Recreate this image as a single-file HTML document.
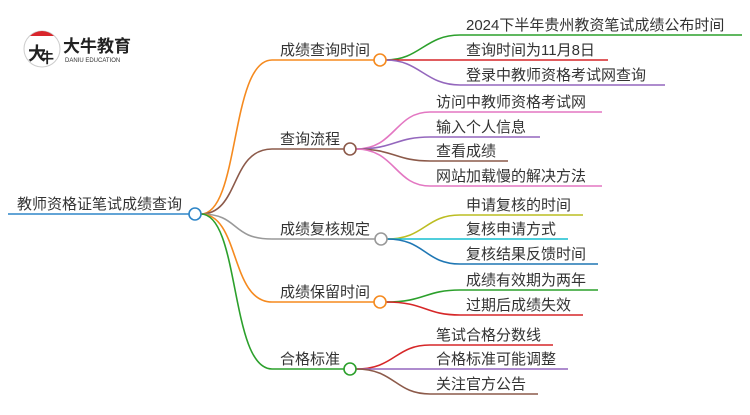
<!DOCTYPE html>
<html><head><meta charset="utf-8"><style>
body{margin:0;background:#fff}
svg text{font-family:"Liberation Sans","Noto Sans CJK SC",sans-serif;fill:#333}
</style></head><body>
<svg width="750" height="410" viewBox="0 0 750 410" xmlns="http://www.w3.org/2000/svg">
<g>
<circle cx="42" cy="49" r="18" fill="#fff" stroke="#ccc" stroke-width="1"/>
<path d="M30,36 A17,17 0 0 1 54,36 Z" fill="#d9262c"/>
<text x="28" y="60" font-size="18" font-weight="bold" style="fill:#222">大</text>
<text x="40" y="63" font-size="14" font-weight="bold" style="fill:#222">牛</text>
<text x="63" y="52" font-size="17" font-weight="bold" style="fill:#222">大牛教育</text>
<text x="65" y="62" font-size="6" style="fill:#333">DANIU EDUCATION</text>
</g>
<g fill="none" stroke-width="1.6">
<path d="M8,214 H189" stroke="#2f86c8"/>
<path d="M201,214 C240,214 230,60 272,60 H374" stroke="#f58a1f"/>
<path d="M201,214 C240,214 230,149 272,149 H344" stroke="#8c5a4a"/>
<path d="M201,214 C240,214 230,239 272,239 H375" stroke="#999"/>
<path d="M201,214 C240,214 230,302 272,302 H374" stroke="#f58a1f"/>
<path d="M201,214 C240,214 230,369 272,369 H344" stroke="#2ca02c"/>
<path d="M386,60 C420,60 425,35 460,35 H742" stroke="#2ca02c"/>
<path d="M386,60 H608" stroke="#d62728"/>
<path d="M386,60 C420,60 425,85 460,85 H665" stroke="#9467bd"/>
<path d="M356,149 C395,149 395,112 430,112 H602" stroke="#e377c2"/>
<path d="M356,149 C395,149 395,137 430,137 H540" stroke="#9467bd"/>
<path d="M356,149 C395,149 395,161 430,161 H508" stroke="#8c5a4a"/>
<path d="M356,149 C395,149 395,186 430,186 H602" stroke="#e377c2"/>
<path d="M387,239 C425,239 425,215 460,215 H583" stroke="#bcbd22"/>
<path d="M387,239 H568" stroke="#17becf"/>
<path d="M387,239 C425,239 425,264 460,264 H598" stroke="#1f77b4"/>
<path d="M386,302 C425,302 425,290 460,290 H598" stroke="#2ca02c"/>
<path d="M386,302 C425,302 425,315 460,315 H583" stroke="#d62728"/>
<path d="M356,369 C395,369 395,345 430,345 H553" stroke="#d62728"/>
<path d="M356,369 H568" stroke="#9467bd"/>
<path d="M356,369 C395,369 395,394 430,394 H538" stroke="#8c5a4a"/>
</g>
<g fill="#fff" stroke-width="1.6">
<circle cx="195" cy="214" r="6" stroke="#2f86c8"/>
<circle cx="380" cy="60" r="6" stroke="#f58a1f"/>
<circle cx="350" cy="149" r="6" stroke="#8c5a4a"/>
<circle cx="381" cy="239" r="6" stroke="#999"/>
<circle cx="380" cy="302" r="6" stroke="#f58a1f"/>
<circle cx="350" cy="369" r="6" stroke="#2ca02c"/>
</g>
<g font-size="15">
<text x="17" y="209">教师资格证笔试成绩查询</text>
<text x="280" y="55">成绩查询时间</text>
<text x="280" y="144">查询流程</text>
<text x="280" y="234">成绩复核规定</text>
<text x="280" y="297">成绩保留时间</text>
<text x="280" y="364">合格标准</text>
<text x="466" y="30">2024下半年贵州教资笔试成绩公布时间</text>
<text x="466" y="55">查询时间为11月8日</text>
<text x="466" y="80">登录中教师资格考试网查询</text>
<text x="436" y="107">访问中教师资格考试网</text>
<text x="436" y="132">输入个人信息</text>
<text x="436" y="156">查看成绩</text>
<text x="436" y="181">网站加载慢的解决方法</text>
<text x="466" y="210">申请复核的时间</text>
<text x="466" y="234">复核申请方式</text>
<text x="466" y="259">复核结果反馈时间</text>
<text x="466" y="285">成绩有效期为两年</text>
<text x="466" y="310">过期后成绩失效</text>
<text x="436" y="340">笔试合格分数线</text>
<text x="436" y="364">合格标准可能调整</text>
<text x="436" y="389">关注官方公告</text>
</g>
</svg>
</body></html>
